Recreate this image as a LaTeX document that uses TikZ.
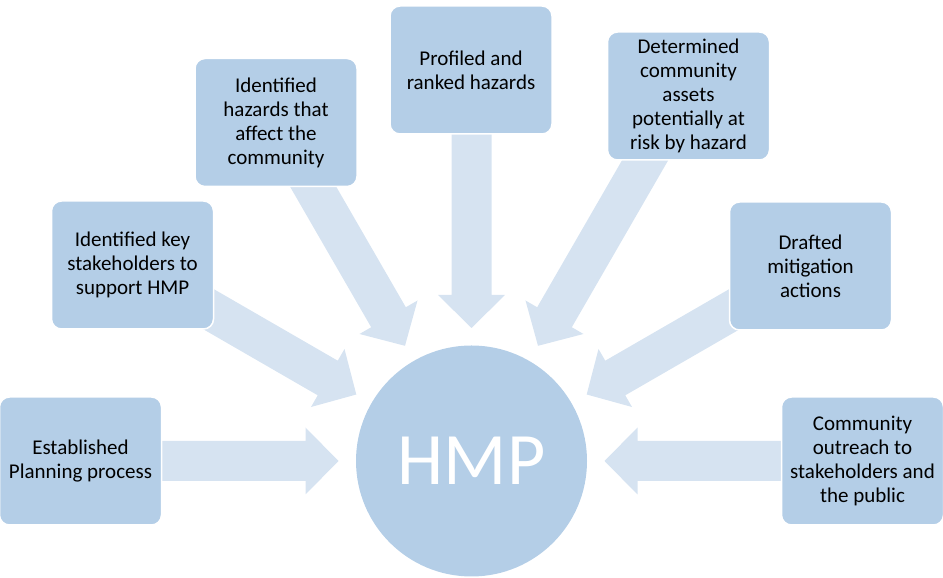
\documentclass[tikz,border=0pt]{standalone}
\usepackage{fontspec}
\setmainfont{Carlito}
\definecolor{boxfill}{RGB}{180,206,231}
\definecolor{arrowfill}{RGB}{214,227,241}
\tikzset{
  stagebox/.style={rectangle, rounded corners=10pt, fill=boxfill, draw=white, line width=1.5pt,
    minimum width=162pt, minimum height=128pt, align=center, inner sep=2pt,
    font=\fontsize{21}{24}\selectfont, text=black},
  hubcircle/.style={circle, fill=boxfill, minimum size=231pt, inner sep=0pt,
    font=\fontsize{74}{88}\selectfont, text=white},
  blockarrow/.style={fill=arrowfill}
}
\newcommand\radialarrow[1]{%
  \begin{scope}[shift={(hmp.center)}, rotate=#1]
    \fill[blockarrow] (133,0) -- (166,33.5) -- (166,20) -- (380,20) -- (380,-20)
      -- (166,-20) -- (166,-33.5) -- cycle;
  \end{scope}}
\begin{document}
\begin{tikzpicture}[x=1pt,y=1pt]
\useasboundingbox (0,0) rectangle (943,578);
\node[hubcircle] (hmp) at (471.5,117) {HMP};
\radialarrow{180}
\radialarrow{150}
\radialarrow{120}
\radialarrow{90}
\radialarrow{60}
\radialarrow{30}
\radialarrow{0}
\node[stagebox] (b1) at (80.5,117) {Established\\Planning process};
\node[stagebox] (b2) at (132.5,313) {Identified key\\stakeholders to\\support HMP};
\node[stagebox] (b3) at (276,455.5) {Identified\\hazards that\\affect the\\community};
\node[stagebox] (b4) at (471,508) {Profiled and\\ranked hazards};
\node[stagebox] (b5) at (688.5,482) {Determined\\community\\assets\\potentially at\\risk by hazard};
\node[stagebox] (b6) at (810.5,312) {Drafted\\mitigation\\actions};
\node[stagebox] (b7) at (862.5,117) {Community\\outreach to\\stakeholders and\\the public};
\end{tikzpicture}
\end{document}
